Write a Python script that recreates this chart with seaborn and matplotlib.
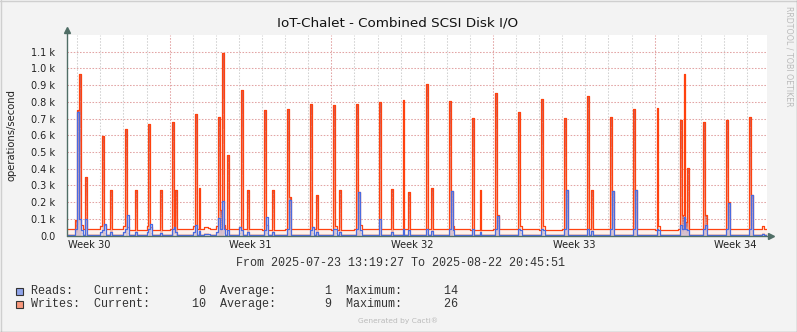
import numpy as np
import pandas as pd
import matplotlib
matplotlib.use("Agg")
import matplotlib.pyplot as plt
import matplotlib.dates as mdates
from matplotlib.lines import Line2D
from matplotlib.patches import Rectangle
import seaborn as sns

title = "IoT-Chalet - Combined SCSI Disk I/O"
ylabel = "operations/second"
range_start = "2025-07-23 13:19:27"
range_end = "2025-08-22 20:45:51"

# 2-hour consolidated samples
sample_start = "2025-07-23 12:00"
sample_end = "2025-08-22 22:00"

# resting level per calendar day, Jul 23 .. Aug 22
writes_base = [36, 37, 36, 33, 35, 36, 37, 38, 36, 35, 37, 36, 35, 36, 37, 36,
               38, 36, 35, 37, 36, 35, 36, 37, 36, 37, 35, 36, 38, 36, 37]
reads_base = [4, 4, 3, 4, 5, 4, 3, 4, 4, 5, 4, 3, 4, 4, 5, 4,
              4, 3, 4, 4, 5, 4, 3, 4, 4, 4, 5, 4, 3, 4, 4]

# busy periods: day offset from 2025-07-24, hour of day, writes, reads
burst_day = [-1, 0, 0, 0, 0,
             1, 1, 1, 1, 2, 2, 2, 2, 3, 3, 3, 3, 4, 4, 4,
             5, 5, 5, 5, 5, 5, 6, 6, 6, 6, 6, 6, 7, 7, 7,
             8, 8, 8, 9, 9, 10, 10, 10, 11, 11, 11, 12, 12, 12,
             13, 13, 14, 14, 15, 15, 16, 16, 16, 17, 17, 18, 18,
             19, 19, 20, 20, 21, 21, 22, 22, 23, 23, 24, 24, 25, 25,
             26, 26, 26, 26, 26, 27, 27, 28, 28, 29, 29, 29]
burst_hour = [22, 0, 2, 4, 8,
              0, 2, 4, 10, 0, 2, 4, 12, 0, 2, 4, 14, 2, 4, 6,
              0, 2, 6, 12, 14, 16, 0, 2, 4, 6, 8, 12, 0, 2, 8,
              2, 4, 10, 2, 4, 2, 4, 8, 2, 4, 8, 2, 4, 6,
              2, 14, 2, 8, 2, 8, 2, 4, 6, 2, 10, 2, 4,
              2, 4, 2, 4, 2, 4, 2, 6, 2, 4, 2, 4, 2, 4,
              2, 4, 6, 8, 10, 2, 4, 2, 4, 2, 4, 16]
burst_writes = [90, 750, 965, 60, 351,
                55, 595, 60, 275, 55, 636, 50, 270, 55, 667, 50, 270, 677, 55, 275,
                55, 726, 283, 48, 50, 45, 55, 708, 150, 1092, 60, 480, 50, 870, 272,
                750, 60, 272, 756, 230, 785, 50, 241, 779, 55, 272, 785, 261, 60,
                798, 277, 810, 259, 906, 287, 804, 267, 55, 704, 275, 852, 120,
                738, 55, 816, 55, 704, 271, 834, 275, 708, 267, 756, 275, 762, 55,
                690, 120, 966, 80, 401, 678, 121, 690, 200, 708, 240, 55]
burst_reads = [40, 740, 100, 30, 100,
               20, 30, 66, 20, 20, 40, 121, 20, 20, 40, 66, 15, 40, 52, 20,
               20, 62, 25, 10, 10, 10, 20, 102, 40, 207, 40, 30, 52, 30, 20,
               30, 108, 20, 40, 215, 30, 52, 20, 40, 40, 20, 40, 261, 30,
               100, 20, 40, 30, 40, 25, 40, 267, 30, 40, 20, 40, 116,
               40, 30, 40, 30, 40, 271, 40, 25, 40, 267, 40, 275, 40, 30,
               60, 40, 110, 40, 30, 40, 62, 40, 195, 40, 240, 10]

series_names = ["Reads:", "Writes:"]
current_vals = [0, 10]
average_vals = [1, 9]
maximum_vals = [14, 26]

ytick_vals = [0, 100, 200, 300, 400, 500, 600, 700, 800, 900, 1000, 1100]
y_top = 1200

# ---- build the sample table ----
times = pd.date_range(sample_start, sample_end, freq="2h")
day_idx = (times.normalize() - pd.Timestamp("2025-07-23")).days
writes = np.array(writes_base, dtype=float)[day_idx]
reads = np.array(reads_base, dtype=float)[day_idx]
origin = pd.Timestamp("2025-07-24")
for d, h, w, r in zip(burst_day, burst_hour, burst_writes, burst_reads):
    i = times.get_loc(origin + pd.Timedelta(days=d, hours=h))
    writes[i] = w
    reads[i] = r
df = pd.DataFrame({"x": mdates.date2num(times), "writes": writes, "reads": reads})

# ---- figure ----
sns.set_theme(style="white")
plt.rcParams["font.family"] = ["DejaVu Sans"]
W, H = 797, 332
fig = plt.figure(figsize=(W / 100, H / 100), dpi=100)
fig.patch.set_facecolor("#F3F3F3")

def fx(px):
    return px / W

def fy(py):
    return 1 - py / H

left, right, top, bottom = 67, 767, 35, 235.5
ax = fig.add_axes([fx(left), fy(bottom), (right - left) / W, (bottom - top) / H])
ax.set_facecolor("white")

x0 = mdates.date2num(pd.Timestamp(range_start))
x1 = mdates.date2num(pd.Timestamp(range_end))

# writes: quiet periods get a pale wash, bursts a gradient darker towards the top
ax.fill_between(df["x"], 0, df["writes"], step="post", color="#FDF1EC", lw=0, zorder=2)
ax.plot(df["x"], df["writes"] * 0.25, drawstyle="steps-post", color="#F8C4B0", lw=0.6, zorder=2)
busy_w = np.where(df["writes"] > 70, df["writes"], 0.0)
n_layers = 12
c_low = np.array([247, 196, 182]) / 255
c_high = np.array([200, 92, 92]) / 255
for j in range(n_layers):
    f = (j + 0.5) / n_layers
    col = c_low * (1 - f) + c_high * f
    ax.fill_between(df["x"], busy_w * j / n_layers, busy_w * (j + 1) / n_layers,
                    step="post", color=col, lw=0, zorder=3)
sns.lineplot(data=df, x="x", y="writes", ax=ax, color="#FF420E", lw=0.9,
             drawstyle="steps-post", estimator=None, zorder=4)

# reads on top
ax.fill_between(df["x"], 0, df["reads"], step="post", color="#B7C3F0", alpha=0.45, lw=0, zorder=5)
sns.lineplot(data=df, x="x", y="reads", ax=ax, color="#4A6BE0", lw=0.9,
             drawstyle="steps-post", estimator=None, zorder=6)

ax.set_xlim(x0, x1)
ax.set_ylim(0, y_top)
ax.set_xlabel("")
ax.set_ylabel("")

# grid
grid_red = "#E2A4A4"
grid_grey = "#D2D2D2"
days = pd.date_range("2025-07-24", "2025-08-22", freq="D")
mondays = days[days.dayofweek == 0]
others = days[days.dayofweek != 0]
ax.set_xticks(mdates.date2num(mondays))
ax.set_xticks(mdates.date2num(others), minor=True)
ax.set_xticklabels([])
ax.set_yticks(ytick_vals)
ax.set_yticklabels(["0.0"] + ["%.1f k" % (v / 1000) for v in ytick_vals[1:]],
                   fontsize=7, color="#222222")
ax.tick_params(axis="y", length=0, pad=8.5)
ax.tick_params(axis="x", which="both", length=2, color=grid_red, pad=0)
ax.tick_params(axis="x", which="minor", color=grid_grey)
ax.grid(which="minor", axis="x", color=grid_grey, ls=(0, (1.5, 1.5)), lw=0.75, zorder=1)
ax.grid(which="major", axis="x", color=grid_red, ls=(0, (1.5, 1.5)), lw=0.75, zorder=1)
ax.grid(which="major", axis="y", color=grid_red, ls=(0, (1.5, 1.5)), lw=0.75, zorder=1)
ax.set_axisbelow(True)

for s in ["top", "right", "left", "bottom"]:
    ax.spines[s].set_visible(False)
axis_col = "#506E66"
ax.plot([0, 0], [0, 1.02], color=axis_col, lw=1, transform=ax.transAxes, clip_on=False, zorder=8)
ax.plot([0, 1.005], [0, 0], color=axis_col, lw=1, transform=ax.transAxes, clip_on=False, zorder=8)
ax.plot([0], [1.024], marker="^", ms=4, color=axis_col, transform=ax.transAxes, clip_on=False, zorder=8)
ax.plot([1.006], [0], marker=">", ms=4, color=axis_col, transform=ax.transAxes, clip_on=False, zorder=8)

# week labels centred on each week
for m in pd.date_range("2025-07-21", "2025-08-18", freq="7D"):
    mid = mdates.date2num(m + pd.Timedelta(hours=84))
    ax.annotate("Week %d" % m.isocalendar().week, xy=(mid, 0),
                xycoords=("data", "axes fraction"), xytext=(0, -7),
                textcoords="offset points", ha="center", va="center",
                fontsize=7.1, color="#222222")

# texts
fig.text(fx(398), fy(22.5), title, ha="center", va="center", fontsize=9.7, color="#111111")
fig.text(fx(12), fy(135), ylabel, rotation=90, ha="center", va="center", fontsize=7.2, color="#222222")
fig.text(fx(789), fy(56), "RRDTOOL / TOBI OETIKER", rotation=270, ha="center", va="center",
         fontsize=5.7, color="#BBBBBB")

mono = ["Liberation Mono", "DejaVu Sans Mono"]
fig.text(fx(400), fy(263.3), "From %s To %s" % (range_start, range_end), ha="center", va="center",
         fontsize=8.45, family=mono, color="#333333")

box_cols = ["#8FA3E8", "#F8987C"]
row_y = [291, 304.3]
for name, cur, avg, mx, col, yy in zip(series_names, current_vals, average_vals, maximum_vals, box_cols, row_y):
    fig.patches.append(Rectangle((fx(15.7), fy(yy + 4)), 7.5 / W, 7.5 / H, transform=fig.transFigure,
                                 facecolor=col, edgecolor="#333333", lw=0.8))
    line = "%-9sCurrent:%8d  Average:%8d  Maximum:%8d" % (name, cur, avg, mx)
    fig.text(fx(30.5), fy(yy), line, ha="left", va="center", fontsize=8.45, family=mono, color="#333333")

fig.text(fx(398), fy(321), "Generated by Cacti®", ha="center", va="center", fontsize=5.4, color="#BBBBBB")

# outer frame
fig.add_artist(Line2D([0, 1], [fy(0.5), fy(0.5)], transform=fig.transFigure, color="#CFCFCF", lw=1))
fig.add_artist(Line2D([fx(0.5), fx(0.5)], [0, 1], transform=fig.transFigure, color="#CFCFCF", lw=1))
fig.add_artist(Line2D([0, 1], [fy(331.5), fy(331.5)], transform=fig.transFigure, color="#9A9A9A", lw=1))
fig.add_artist(Line2D([fx(796.5), fx(796.5)], [0, 1], transform=fig.transFigure, color="#9A9A9A", lw=1))

fig.savefig("out.png", dpi=100, facecolor=fig.get_facecolor())
